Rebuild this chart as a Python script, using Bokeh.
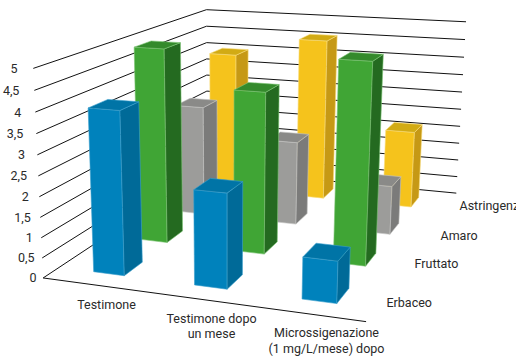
import numpy as np
from bokeh.core.properties import value
from bokeh.embed import file_html
from bokeh.models import Range1d
from bokeh.plotting import figure
from bokeh.resources import INLINE

categories = ["Testimone", "Testimone dopo\nun mese", "Microssigenazione\n(1 mg/L/mese) dopo"]
series_names = ["Erbaceo", "Fruttato", "Amaro", "Astringenza"]
erbaceo = [4, 2.3, 1]
fruttato = [5, 4.1, 5]
amaro = [3, 2.25, 1.3]
astringenza = [4, 4.55, 2.15]
ticks = [0, 0.5, 1, 1.5, 2, 2.5, 3, 3.5, 4, 4.5, 5]
tick_labels = ["0", "0,5", "1", "1,5", "2", "2,5", "3", "3,5", "4", "4,5", "5"]
series_values = [erbaceo, fruttato, amaro, astringenza]

front_fill = ["#0082bc", "#40a535", "#9c9c9a", "#f5c31c"]
side_fill = ["#006a98", "#246a20", "#7b7b7a", "#c69915"]
top_fill = ["#0074a6", "#348a2c", "#8a8a88", "#d2ab14"]
edge = ["#3a9fcc", "#7cc474", "#c4c4c2", "#f9dc7a"]

# Perspective camera: (category, series depth, value) -> page pixels
frame_world = np.array([[0,0,0],[3,0,0],[0,4,0],[3,4,0],[0,0,5],[0,4,5],[3,4,5]], float)
frame_page = np.array([[43,277],[366,321],[206,169],[456,193],[32,68.5],[207,9],[465,21]], float)
rows = []
rhs = []
for (X, Y, Z), (u, v) in zip(frame_world, frame_page):
    rows.append([X, Y, Z, 1, 0, 0, 0, 0, -u*X, -u*Y, -u*Z]); rhs.append(u)
    rows.append([0, 0, 0, 0, X, Y, Z, 1, -v*X, -v*Y, -v*Z]); rhs.append(v)
sol = np.linalg.lstsq(np.array(rows), np.array(rhs), rcond=None)[0]
camera = np.append(sol, 1.0).reshape(3, 4)


def project(x, y, z):
    q = camera @ np.array([x, y, z, 1.0])
    return q[0] / q[2], q[1] / q[2]


def polygon(points):
    pts = [project(*pt) for pt in points]
    return [a for a, _ in pts], [b for _, b in pts]


BAR_W = 0.31
BAR_D = 0.39
BAR_SHIFT = 0.01
ROW_SHEAR = [0.013, 0.002, 0.008]

p = figure(width=516, height=359, output_backend="svg", toolbar_location=None,
           x_range=Range1d(0, 516), y_range=Range1d(359, 0), min_border=0)
p.axis.visible = False
p.grid.visible = False
p.outline_line_color = None
p.background_fill_color = "white"
p.border_fill_color = "white"

# Wall gridlines, floor front edge
gx, gy = [], []
for t in ticks:
    xs, ys = polygon([(0, 0, t), (0, 4, t), (3, 4, t)])
    gx.append(xs); gy.append(ys)
xs, ys = polygon([(0, 0, 0), (3, 0, 0)])
gx.append(xs); gy.append(ys)
p.multi_line(gx, gy, line_color="#111111", line_width=1)

# Bars, far row first, left to right within a row
fx, fy, fc, lc = [], [], [], []
for j in range(3, -1, -1):
    for i in range(3):
        v = series_values[j][i]
        centre = i + 0.5 + BAR_SHIFT - ROW_SHEAR[i] * j
        x0, x1 = centre - BAR_W / 2, centre + BAR_W / 2
        y0, y1 = j + 0.5 - BAR_D / 2, j + 0.5 + BAR_D / 2
        faces = [
            ([(x0, y0, 0), (x1, y0, 0), (x1, y0, v), (x0, y0, v)], front_fill[j]),
            ([(x1, y0, 0), (x1, y1, 0), (x1, y1, v), (x1, y0, v)], side_fill[j]),
            ([(x0, y0, v), (x1, y0, v), (x1, y1, v), (x0, y1, v)], top_fill[j]),
        ]
        for pts, col in faces:
            a, b = polygon(pts)
            fx.append(a); fy.append(b); fc.append(col); lc.append(edge[j])
p.patches(fx, fy, fill_color=fc, line_color=lc, line_width=0.6)

font = value("Roboto")
label_color = "#2a2a2a"
# Value labels
vx = [36 - 3.8 * t for t in ticks]
vy = [project(0, 0, t)[1] for t in ticks]
p.text(vx, vy, text=tick_labels, text_font=font, text_font_size="12.5px", text_color=label_color,
       text_align="right", text_baseline="middle")

# Category labels
cat_x = [106, 211, 326]
cat_y = [304, 325.5, 340]
p.text(cat_x, cat_y, text=categories, text_font=font, text_font_size="12.5px", text_color=label_color,
       text_align="center", text_baseline="middle", text_line_height=1.05)

# Series labels
ser_x = [386, 414, 440, 459]
ser_y = [302, 263, 235, 205]
p.text(ser_x, ser_y, text=series_names, text_font=font, text_font_size="12.5px", text_color=label_color,
       text_align="left", text_baseline="middle")

open("out.html", "w").write(file_html(p, INLINE))
